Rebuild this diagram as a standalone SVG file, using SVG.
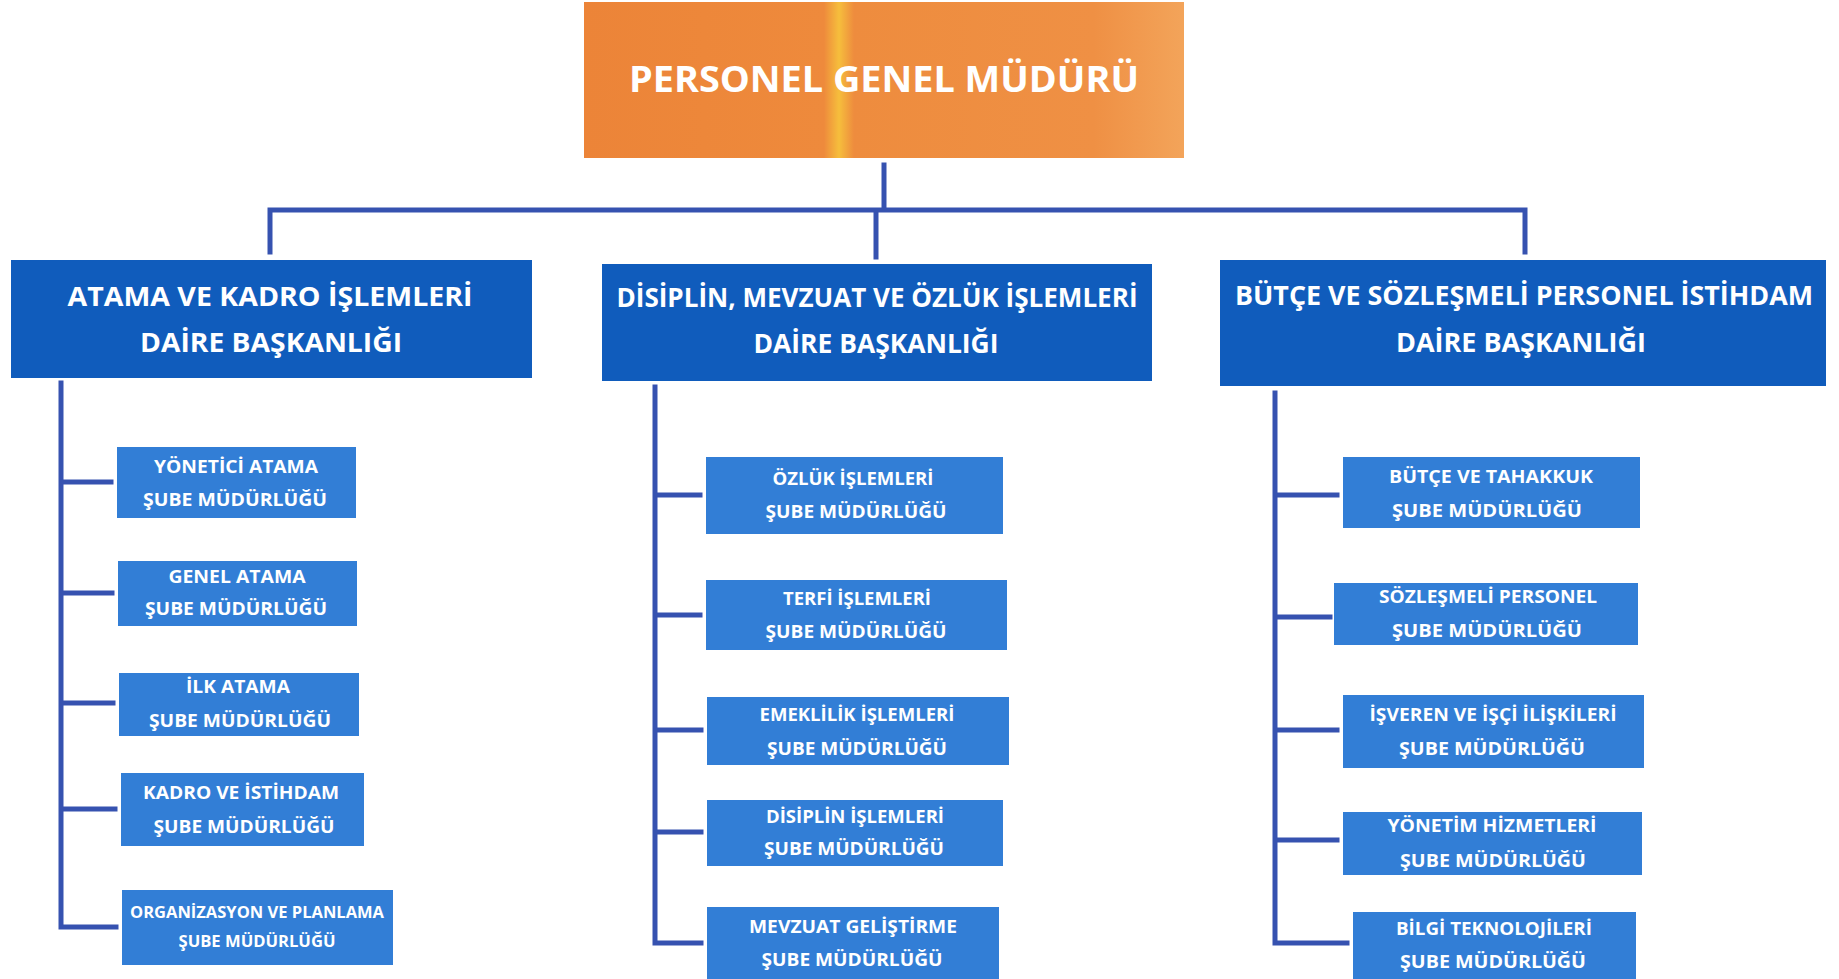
<svg xmlns="http://www.w3.org/2000/svg" width="1839" height="979" viewBox="0 0 1839 979">
<defs>
<linearGradient id="og" x1="0" y1="0" x2="1" y2="0">
<stop offset="0" stop-color="#EC8438"/>
<stop offset="0.40" stop-color="#EE8A3C"/>
<stop offset="0.425" stop-color="#F6BE3C"/>
<stop offset="0.45" stop-color="#EE8C3E"/>
<stop offset="0.85" stop-color="#EF9044"/>
<stop offset="1" stop-color="#F3A45A"/>
</linearGradient>
</defs>
<style>
.dept{fill:#105CBC}
.sub{fill:#327ED6}
.c{stroke:#3652B0;stroke-width:5;fill:none;stroke-linecap:square}
text{font-family:"Open Sans","Liberation Sans",sans-serif;font-weight:bold;fill:#ffffff;text-anchor:middle}
.t0{font-size:36px}
.t1{font-size:27px}
.t2{font-size:18px}
</style>
<rect width="1839" height="979" fill="#ffffff"/>
<g id="connectors">
<path class="c" d="M884 165V210M270 210H1525M270 210V252M1525 210V252M876 210V257"/>
<path class="c" d="M61 383V927M61 482H111M61 593H112M61 703H113M61 809H115M61 927H116"/>
<path class="c" d="M655 387V943M655 495H700M655 615H700M655 730H701M655 832H701M655 943H701"/>
<path class="c" d="M1275 393V943M1275 495H1337M1275 617H1330M1275 730H1337M1275 840H1337M1275 943H1347"/>
</g>
<g id="gm">
<rect x="584" y="2" width="600" height="156" fill="url(#og)"/>
<text class="t0" x="884" y="92" textLength="510" lengthAdjust="spacingAndGlyphs">PERSONEL GENEL MÜDÜRÜ</text>
</g>
<g id="d1">
<rect class="dept" x="11" y="260" width="521" height="118"/>
<text class="t1" x="270" y="306" textLength="405" lengthAdjust="spacingAndGlyphs">ATAMA VE KADRO İŞLEMLERİ</text>
<text class="t1" x="271" y="352" textLength="262" lengthAdjust="spacingAndGlyphs">DAİRE BAŞKANLIĞI</text>
</g>
<g id="d2">
<rect class="dept" x="602" y="264" width="550" height="117"/>
<text class="t1" x="877" y="307" textLength="521" lengthAdjust="spacingAndGlyphs">DİSİPLİN, MEVZUAT VE ÖZLÜK İŞLEMLERİ</text>
<text class="t1" x="876" y="353" textLength="245" lengthAdjust="spacingAndGlyphs">DAİRE BAŞKANLIĞI</text>
</g>
<g id="d3">
<rect class="dept" x="1220" y="260" width="606" height="126"/>
<text class="t1" x="1524" y="305" textLength="578" lengthAdjust="spacingAndGlyphs">BÜTÇE VE SÖZLEŞMELİ PERSONEL İSTİHDAM</text>
<text class="t1" x="1521" y="352" textLength="250" lengthAdjust="spacingAndGlyphs">DAİRE BAŞKANLIĞI</text>
</g>
<g id="s11">
<rect class="sub" x="117" y="447" width="239" height="71"/>
<text class="t2" x="236" y="473" textLength="164" lengthAdjust="spacingAndGlyphs">YÖNETİCİ ATAMA</text>
<text class="t2" x="235" y="506" textLength="184" lengthAdjust="spacingAndGlyphs">ŞUBE MÜDÜRLÜĞÜ</text>
</g>
<g id="s12">
<rect class="sub" x="118" y="561" width="239" height="65"/>
<text class="t2" x="237" y="583" textLength="137" lengthAdjust="spacingAndGlyphs">GENEL ATAMA</text>
<text class="t2" x="236" y="615" textLength="182" lengthAdjust="spacingAndGlyphs">ŞUBE MÜDÜRLÜĞÜ</text>
</g>
<g id="s13">
<rect class="sub" x="119" y="673" width="240" height="63"/>
<text class="t2" x="238" y="693" textLength="104" lengthAdjust="spacingAndGlyphs">İLK ATAMA</text>
<text class="t2" x="240" y="727" textLength="182" lengthAdjust="spacingAndGlyphs">ŞUBE MÜDÜRLÜĞÜ</text>
</g>
<g id="s14">
<rect class="sub" x="121" y="773" width="243" height="73"/>
<text class="t2" x="241" y="799" textLength="196" lengthAdjust="spacingAndGlyphs">KADRO VE İSTİHDAM</text>
<text class="t2" x="244" y="833" textLength="181" lengthAdjust="spacingAndGlyphs">ŞUBE MÜDÜRLÜĞÜ</text>
</g>
<g id="s15">
<rect class="sub" x="122" y="890" width="271" height="75"/>
<text class="t2" x="257" y="918" textLength="254" lengthAdjust="spacingAndGlyphs" style="font-size:16px">ORGANİZASYON VE PLANLAMA</text>
<text class="t2" x="257" y="947" textLength="157" lengthAdjust="spacingAndGlyphs" style="font-size:16px">ŞUBE MÜDÜRLÜĞÜ</text>
</g>
<g id="s21">
<rect class="sub" x="706" y="457" width="297" height="77"/>
<text class="t2" x="853" y="485" textLength="161" lengthAdjust="spacingAndGlyphs">ÖZLÜK İŞLEMLERİ</text>
<text class="t2" x="856" y="518" textLength="181" lengthAdjust="spacingAndGlyphs">ŞUBE MÜDÜRLÜĞÜ</text>
</g>
<g id="s22">
<rect class="sub" x="706" y="580" width="301" height="70"/>
<text class="t2" x="857" y="605" textLength="148" lengthAdjust="spacingAndGlyphs">TERFİ İŞLEMLERİ</text>
<text class="t2" x="856" y="638" textLength="181" lengthAdjust="spacingAndGlyphs">ŞUBE MÜDÜRLÜĞÜ</text>
</g>
<g id="s23">
<rect class="sub" x="707" y="697" width="302" height="68"/>
<text class="t2" x="857" y="721" textLength="195" lengthAdjust="spacingAndGlyphs">EMEKLİLİK İŞLEMLERİ</text>
<text class="t2" x="857" y="755" textLength="180" lengthAdjust="spacingAndGlyphs">ŞUBE MÜDÜRLÜĞÜ</text>
</g>
<g id="s24">
<rect class="sub" x="707" y="800" width="296" height="66"/>
<text class="t2" x="855" y="823" textLength="178" lengthAdjust="spacingAndGlyphs">DİSİPLİN İŞLEMLERİ</text>
<text class="t2" x="854" y="855" textLength="180" lengthAdjust="spacingAndGlyphs">ŞUBE MÜDÜRLÜĞÜ</text>
</g>
<g id="s25">
<rect class="sub" x="707" y="907" width="292" height="72"/>
<text class="t2" x="853" y="933" textLength="208" lengthAdjust="spacingAndGlyphs">MEVZUAT GELİŞTİRME</text>
<text class="t2" x="852" y="966" textLength="181" lengthAdjust="spacingAndGlyphs">ŞUBE MÜDÜRLÜĞÜ</text>
</g>
<g id="s31">
<rect class="sub" x="1343" y="457" width="297" height="71"/>
<text class="t2" x="1491" y="483" textLength="204" lengthAdjust="spacingAndGlyphs">BÜTÇE VE TAHAKKUK</text>
<text class="t2" x="1487" y="517" textLength="190" lengthAdjust="spacingAndGlyphs">ŞUBE MÜDÜRLÜĞÜ</text>
</g>
<g id="s32">
<rect class="sub" x="1334" y="583" width="304" height="62"/>
<text class="t2" x="1488" y="603" textLength="218" lengthAdjust="spacingAndGlyphs">SÖZLEŞMELİ PERSONEL</text>
<text class="t2" x="1487" y="637" textLength="190" lengthAdjust="spacingAndGlyphs">ŞUBE MÜDÜRLÜĞÜ</text>
</g>
<g id="s33">
<rect class="sub" x="1343" y="695" width="301" height="73"/>
<text class="t2" x="1493" y="721" textLength="247" lengthAdjust="spacingAndGlyphs">İŞVEREN VE İŞÇİ İLİŞKİLERİ</text>
<text class="t2" x="1492" y="755" textLength="186" lengthAdjust="spacingAndGlyphs">ŞUBE MÜDÜRLÜĞÜ</text>
</g>
<g id="s34">
<rect class="sub" x="1343" y="812" width="299" height="63"/>
<text class="t2" x="1492" y="832" textLength="209" lengthAdjust="spacingAndGlyphs">YÖNETİM HİZMETLERİ</text>
<text class="t2" x="1493" y="867" textLength="186" lengthAdjust="spacingAndGlyphs">ŞUBE MÜDÜRLÜĞÜ</text>
</g>
<g id="s35">
<rect class="sub" x="1353" y="912" width="283" height="67"/>
<text class="t2" x="1494" y="935" textLength="196" lengthAdjust="spacingAndGlyphs">BİLGİ TEKNOLOJİLERİ</text>
<text class="t2" x="1493" y="968" textLength="186" lengthAdjust="spacingAndGlyphs">ŞUBE MÜDÜRLÜĞÜ</text>
</g>
</svg>
